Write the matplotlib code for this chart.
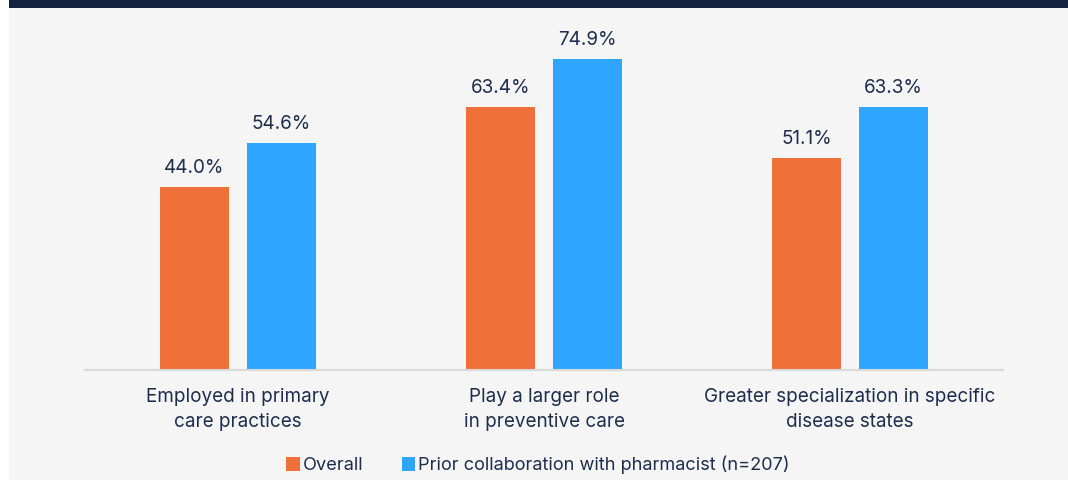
import matplotlib.pyplot as plt
from matplotlib.patches import Rectangle
import numpy as np

categories = ["Employed in primary\ncare practices",
              "Play a larger role\nin preventive care",
              "Greater specialization in specific\ndisease states"]
overall = [44.0, 63.4, 51.1]
prior = [54.6, 74.9, 63.3]
series_names = ["Overall", "Prior collaboration with pharmacist (n=207)"]

ORANGE = "#f0703a"
BLUE = "#2ea6ff"
NAVY = "#13233f"
TEXT = "#1f2d4d"
BG = "#f5f5f5"

plt.rcParams['font.family'] = ['Inter', 'DejaVu Sans']
FS = 13.6

W, H = 1068, 480
fig = plt.figure(figsize=(W / 100, H / 100), dpi=100)
fig.patch.set_facecolor("white")

# gray panel and navy top bar
fig.add_artist(Rectangle((9 / W, 0), 1 - 9 / W, 1, transform=fig.transFigure,
                         facecolor=BG, edgecolor="none", zorder=-10))
fig.add_artist(Rectangle((9 / W, 1 - 8 / H), 1 - 9 / W, 8 / H, transform=fig.transFigure,
                         facecolor=NAVY, edgecolor="none", zorder=-9))

ymax = 80
px_per = 4.155
ax = fig.add_axes([85 / W, (H - 370) / H, 918 / W, ymax * px_per / H])
ax.set_facecolor("none")
x = np.arange(len(categories))
bw = 0.226
off = 0.1424
b1 = ax.bar(x - off, overall, bw, color=ORANGE, label=series_names[0])
b2 = ax.bar(x + off, prior, bw, color=BLUE, label=series_names[1])
for bars, vals in ((b1, overall), (b2, prior)):
    for rect, v in zip(bars, vals):
        ax.annotate(f"{v:.1f}%", (rect.get_x() + rect.get_width() / 2, v),
                    xytext=(0, 7), textcoords="offset points", ha="center",
                    va="bottom", fontsize=FS, color=TEXT)

ax.set_xlim(-0.5, 2.5)
ax.set_ylim(0, ymax)
ax.set_yticks([])
ax.set_xticks(x)
ax.set_xticklabels(categories, fontsize=FS, color=TEXT, linespacing=1.5)
ax.tick_params(axis="x", length=0, pad=13)
for s in ("top", "right", "left"):
    ax.spines[s].set_visible(False)
ax.spines["bottom"].set_color("#d9d9d9")
ax.spines["bottom"].set_linewidth(1.5)

fig.legend(handles=[b1, b2], labels=series_names, loc="center",
           bbox_to_anchor=(538 / W, 1 - 465 / H), ncol=2, frameon=False,
           fontsize=FS - 0.5, handlelength=0.75, handleheight=0.75,
           handletextpad=0.15, columnspacing=2.1, labelcolor=TEXT)

fig.savefig("out.png", dpi=100, facecolor=fig.get_facecolor())
